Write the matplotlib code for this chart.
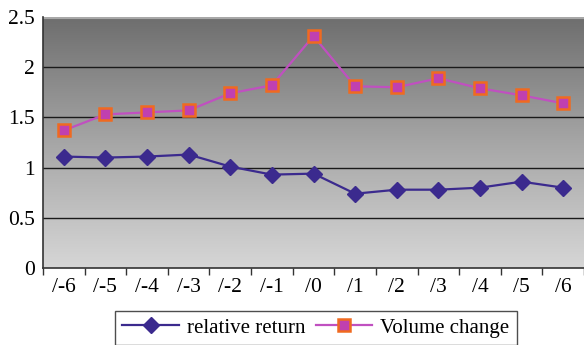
import numpy as np
import matplotlib
matplotlib.use("Agg")
import matplotlib.pyplot as plt
from matplotlib.colors import LinearSegmentedColormap

categories = ["/-6", "/-5", "/-4", "/-3", "/-2", "/-1", "/0",
              "/1", "/2", "/3", "/4", "/5", "/6"]
relative_return = [1.11, 1.10, 1.11, 1.13, 1.01, 0.93, 0.94,
                   0.74, 0.78, 0.78, 0.80, 0.86, 0.80]
volume_change = [1.37, 1.53, 1.55, 1.57, 1.74, 1.82, 2.31,
                 1.81, 1.80, 1.89, 1.79, 1.72, 1.64]
y_ticks = [0, 0.5, 1, 1.5, 2, 2.5]
y_tick_labels = ["0", "0.5", "1", "1.5", "2", "2.5"]

plt.rcParams["font.family"] = ["Liberation Serif", "DejaVu Serif"]

fig = plt.figure(figsize=(5.84, 3.45), dpi=100)
ax = fig.add_axes([43 / 584, 1 - 268 / 345, 541 / 584, 251 / 345])

n = len(categories)
x = np.arange(n)
ax.set_xlim(-0.5, n - 0.5)
ax.set_ylim(0, 2.5)

# vertical grey gradient background
cmap = LinearSegmentedColormap.from_list("bg", ["#d6d6d6", "#a6a6a6", "#6e6e6e"])
grad = np.linspace(0, 1, 256).reshape(-1, 1)
ax.imshow(grad, cmap=cmap, aspect="auto", origin="lower",
          extent=(-0.5, n - 0.5, 0, 2.5), zorder=0)

for yv in y_ticks[1:-1]:
    ax.axhline(yv, color="#1a1a1a", lw=1.0, zorder=1)
ax.axhline(2.5, color="#a8a8a8", lw=3, zorder=1)

ax.plot(x, relative_return, color="#3b2a8e", lw=1.6, marker="D",
        markersize=8, markerfacecolor="#3b2a8e", markeredgecolor="#3b2a8e",
        label="relative return", zorder=3)
ax.plot(x, volume_change, color="#c050c0", lw=1.6, marker="s",
        markersize=9, markerfacecolor="#c040b0", markeredgecolor="#f06a20",
        markeredgewidth=1.8, label="Volume change", zorder=3)

ax.set_yticks(y_ticks)
ax.set_yticklabels(y_tick_labels, fontsize=15.5)
ax.tick_params(axis="y", length=0, pad=6)

ax.set_xticks(x)
ax.set_xticklabels(categories, fontsize=15.5)
ax.tick_params(axis="x", which="major", length=0, pad=7)
ax.set_xticks(np.arange(-0.5, n, 1.0), minor=True)
ax.tick_params(axis="x", which="minor", length=5, width=1, color="#333333",
               direction="out")

for side in ("top", "right"):
    ax.spines[side].set_visible(False)
ax.spines["left"].set_color("#333333")
ax.spines["left"].set_linewidth(1.2)
ax.spines["bottom"].set_color("#333333")
ax.spines["bottom"].set_linewidth(1.2)

leg = fig.legend(loc="lower center", bbox_to_anchor=(316 / 584, -0.03),
                 ncol=2, fontsize=15, frameon=True, fancybox=False,
                 edgecolor="#222222", handlelength=2.7, columnspacing=0.5,
                 handletextpad=0.4, borderpad=0.35)
leg.get_frame().set_linewidth(1.0)

fig.savefig("out.png", dpi=100)
